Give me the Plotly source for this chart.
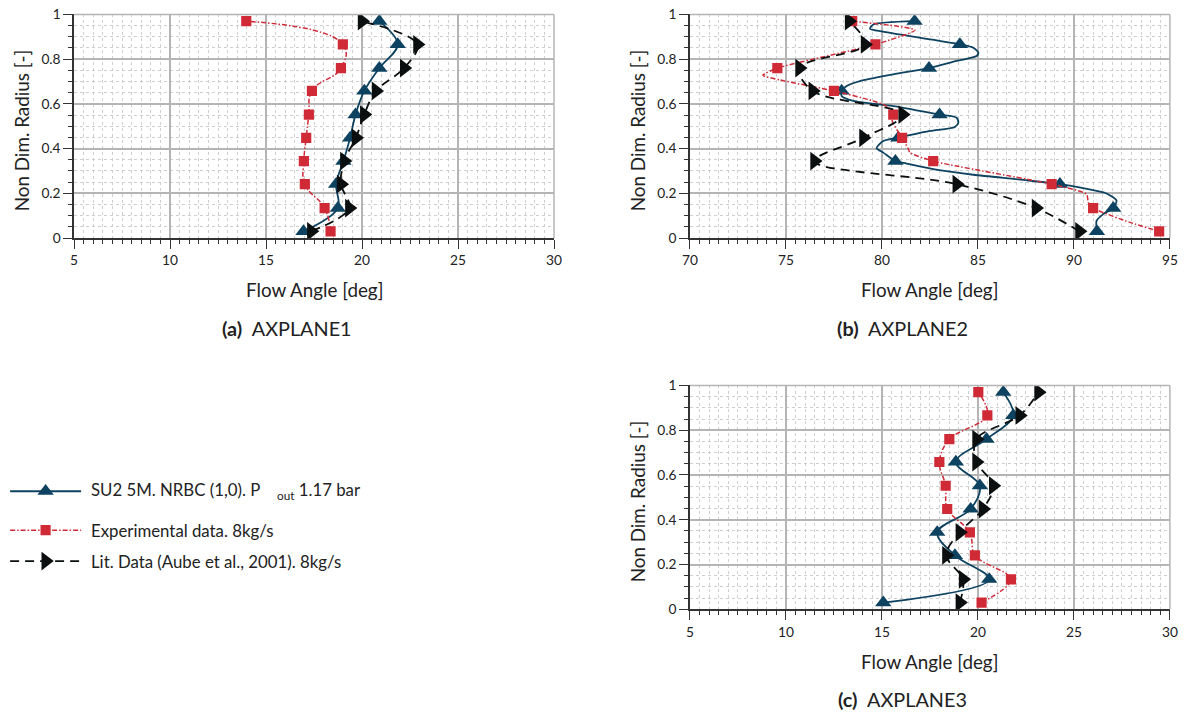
import plotly.graph_objects as go

# Radial stations shared by all three planes (non-dimensional radius)
radius = [0.03, 0.134, 0.241, 0.344, 0.448, 0.552, 0.658, 0.76, 0.866, 0.97]

# AXPLANE1 flow angles [deg]
su2_a = [16.95, 18.74, 18.65, 19.03, 19.38, 19.66, 20.12, 20.9, 21.86, 20.9]
exp_a = [18.36, 18.05, 17.02, 16.97, 17.09, 17.23, 17.39, 18.9, 19.0, 13.97]
lit_a = [17.35, 19.33, 18.9, 19.07, 19.68, 20.11, 20.72, 22.19, 22.88, 19.99]

# AXPLANE2 flow angles [deg]
su2_b = [91.2, 92.05, 89.27, 80.7, 80.85, 83.0, 77.9, 82.45, 84.06, 81.7]
exp_b = [94.44, 91.0, 88.84, 82.67, 81.05, 80.59, 77.5, 74.55, 79.66, 78.45]
lit_b = [90.28, 88.02, 83.89, 76.48, 79.03, 81.07, 76.39, 75.7, 79.11, 78.28]

# AXPLANE2 full SU2 radial profile
su2_b_prof_x = [81.7, 79.55, 79.38, 79.9, 84.06, 84.76, 85.02, 84.93, 83.89, 82.45,
                80.59, 78.85, 78.16, 77.9, 77.9, 78.5, 80.6, 83.0, 83.89, 83.98,
                83.8, 82.5, 81.28, 80.07, 79.72, 80.07, 80.7, 81.28, 82.67, 84.76,
                87.36, 89.27, 91.18, 91.7, 92.22, 92.05, 91.53, 91.18, 91.2]
su2_b_prof_y = [0.97, 0.955, 0.936, 0.925, 0.866, 0.851, 0.829, 0.814, 0.792, 0.76,
                0.732, 0.702, 0.68, 0.658, 0.635, 0.613, 0.59, 0.552, 0.538, 0.516,
                0.497, 0.479, 0.457, 0.434, 0.402, 0.382, 0.344, 0.333, 0.308, 0.283,
                0.26, 0.241, 0.211, 0.199, 0.167, 0.134, 0.107, 0.077, 0.03]

# AXPLANE2 measured profile
exp_b_prof_x = [78.45, 81.72, 79.66, 74.55, 73.8, 74.69, 77.5, 79.55, 80.24, 80.59,
                80.5, 80.6, 81.05, 81.37, 81.46, 82.67, 88.84, 90.66, 90.75, 91.0,
                92.92, 94.44]
exp_b_prof_y = [0.97, 0.93, 0.866, 0.76, 0.728, 0.707, 0.658, 0.613, 0.59, 0.552,
                0.538, 0.51, 0.448, 0.399, 0.382, 0.344, 0.241, 0.196, 0.159, 0.134,
                0.070, 0.03]

# AXPLANE3 flow angles [deg]
su2_c = [15.07, 20.59, 18.8, 17.88, 19.62, 20.10, 18.85, 20.45, 21.84, 21.32]
exp_c = [20.19, 21.72, 19.84, 19.58, 18.40, 18.32, 17.99, 18.51, 20.49, 20.02]
lit_c = [19.05, 19.22, 18.35, 19.05, 20.26, 20.79, 19.92, 19.92, 22.17, 23.15]

series_names = ["SU2 5M. NRBC (1,0). P\u00a0\u00a0\u00a0\u00a0<sub>out</sub> 1.17 bar",
                "Experimental data. 8kg/s",
                "Lit. Data (Aube et al., 2001). 8kg/s"]
captions = ["AXPLANE1", "AXPLANE2", "AXPLANE3"]

# figure size; the html body adds an 8px margin and the page is shown
# fitted back into the 1189x713 window, so layout positions are given in
# window pixels and converted here
W, H = 1189, 713
OFF = 8
KX = W / (W + 2 * OFF)
KY = H / (H + 2 * OFF)
KS = (KX + KY) / 2      # size compensation for fonts / markers

FONT = "Lato"
TXT = "#222222"
NAVY = "#0d4260"
RED = "#d12a37"
BLACK = "#0b0f10"
GRID = "#b5b5b5"


def sz(v):
    return v / KS


su2_style = dict(line=dict(color=NAVY, width=1.8),
                 marker=dict(symbol="triangle-up", size=sz(14), color=NAVY))
exp_style = dict(line=dict(color=RED, width=1.5, dash="5px,2px,1.5px,2px"),
                 marker=dict(symbol="square", size=sz(10), color=RED))
lit_style = dict(line=dict(color=BLACK, width=1.8, dash="9px,6px"),
                 marker=dict(symbol="triangle-right", size=sz(16), color=BLACK))


def fx(px):
    """window pixel column -> paper fraction"""
    return (px / KX - OFF) / W


def fy(py):
    """window pixel row -> paper fraction"""
    return 1 - (py / KY - OFF) / H


# panel boxes in window pixels: (left, right, top, bottom)
panels = {
    "a": (74, 554, 13.3, 237.3),
    "b": (690, 1170, 13.3, 237.3),
    "c": (690, 1170, 385.0, 609.3),
}

fig = go.Figure()


def add_series(xs, ys, style, ax, shape_smooth=1.0, line_only=False, marker_only=False):
    if not marker_only:
        fig.add_trace(go.Scatter(x=xs, y=ys, mode="lines", line=style["line"],
                                 line_shape="spline", line_smoothing=shape_smooth,
                                 xaxis=ax[0], yaxis=ax[1], showlegend=False,
                                 hoverinfo="skip"))
    if not line_only:
        fig.add_trace(go.Scatter(x=xs, y=ys, mode="markers", marker=style["marker"],
                                 xaxis=ax[0], yaxis=ax[1], showlegend=False))


# AXPLANE1
axA = ("x", "y")
add_series(su2_a, radius, su2_style, axA)
add_series(exp_a, radius, exp_style, axA, shape_smooth=1.3)
add_series(lit_a, radius, lit_style, axA)

# AXPLANE2
axB = ("x2", "y2")
add_series(su2_b_prof_x, su2_b_prof_y, su2_style, axB, shape_smooth=0.7, line_only=True)
add_series(su2_b, radius, su2_style, axB, marker_only=True)
add_series(exp_b_prof_x, exp_b_prof_y, exp_style, axB, shape_smooth=0.6, line_only=True)
add_series(exp_b, radius, exp_style, axB, marker_only=True)
add_series(lit_b, radius, lit_style, axB)

# AXPLANE3
axC = ("x3", "y3")
add_series(su2_c, radius, su2_style, axC)
add_series(exp_c, radius, exp_style, axC)
add_series(lit_c, radius, lit_style, axC)


def xaxis_cfg(left, right, rng):
    return dict(domain=[fx(left), fx(right)], range=rng, dtick=5, tick0=rng[0],
                showline=True, linecolor="#333333", linewidth=1.5,
                ticks="outside", ticklen=9, tickwidth=1.2, tickcolor="#333333",
                showgrid=True, gridcolor=GRID, gridwidth=1.5, zeroline=False,
                tickfont=dict(family=FONT, size=sz(13.5), color=TXT),
                minor=dict(dtick=0.5, ticks="outside", ticklen=4, tickwidth=1,
                           tickcolor="#333333", showgrid=True, gridcolor="#cfcfcf",
                           griddash="dot", gridwidth=1))


def yaxis_cfg(top, bottom):
    return dict(domain=[fy(bottom), fy(top)], range=[0, 1], dtick=0.2, tick0=0,
                showline=True, linecolor="#333333", linewidth=1.5,
                ticks="outside", ticklen=9, tickwidth=1.2, tickcolor="#333333",
                showgrid=True, gridcolor=GRID, gridwidth=1.5, zeroline=False,
                tickfont=dict(family=FONT, size=sz(13.5), color=TXT),
                minor=dict(dtick=0.05, ticks="outside", ticklen=4, tickwidth=1,
                           tickcolor="#333333", showgrid=True, gridcolor="#cfcfcf",
                           griddash="dot", gridwidth=1))


la, ra, ta, ba = panels["a"]
lb, rb, tb, bb = panels["b"]
lc, rc, tc, bc = panels["c"]

# legend block area in window pixels (left, right, top, bottom)
LEG = (8, 400, 460, 590)

layout_axes = dict(
    xaxis=dict(xaxis_cfg(la, ra, [5, 30]), anchor="y"),
    yaxis=dict(yaxis_cfg(ta, ba), anchor="x"),
    xaxis2=dict(xaxis_cfg(lb, rb, [70, 95]), anchor="y2"),
    yaxis2=dict(yaxis_cfg(tb, bb), anchor="x2"),
    xaxis3=dict(xaxis_cfg(lc, rc, [5, 30]), anchor="y3"),
    yaxis3=dict(yaxis_cfg(tc, bc), anchor="x3"),
    # small hidden axes hosting the hand-built legend block
    xaxis4=dict(domain=[fx(LEG[0]), fx(LEG[1])], range=[LEG[0], LEG[1]],
                visible=False, fixedrange=True, anchor="y4"),
    yaxis4=dict(domain=[fy(LEG[3]), fy(LEG[2])], range=[LEG[3], LEG[2]],
                visible=False, fixedrange=True, anchor="x4"),
)

# grey frame on the top and right edges of each panel
shapes = []
for ax in ["", "2", "3"]:
    shapes.append(dict(type="line", xref=f"x{ax} domain", yref=f"y{ax} domain",
                       x0=0, x1=1, y0=1, y1=1, layer="above",
                       line=dict(color=GRID, width=1.5)))
    shapes.append(dict(type="line", xref=f"x{ax} domain", yref=f"y{ax} domain",
                       x0=1, x1=1, y0=0, y1=1, layer="above",
                       line=dict(color=GRID, width=1.5)))

annotations = []


def ann(text, px, py, size, angle=0, xanchor="center", yanchor="middle"):
    annotations.append(dict(text=text, x=fx(px), y=fy(py), xref="paper", yref="paper",
                            showarrow=False, textangle=angle, xanchor=xanchor,
                            yanchor=yanchor,
                            font=dict(family=FONT, size=sz(size), color=TXT)))


for key, cap in zip(["a", "b", "c"], captions):
    l, r, t, b = panels[key]
    ann("Flow Angle [deg]", (l + r) / 2, b + 52, 18.5)
    ann("Non Dim. Radius [-]", l - 53, (t + b) / 2 + 4, 18.5, angle=-90)
    ann(f"<b>({key})</b>\u00a0\u00a0{cap}", (l + r) / 2 - 27, b + 90, 19.5)

# legend block
legend_rows = [491, 530, 561]
legend_styles = [su2_style, exp_style, lit_style]
leg_x0, leg_x1, leg_text_x = 10, 81, 89
for row_y, style, name in zip(legend_rows, legend_styles, series_names):
    fig.add_trace(go.Scatter(x=[leg_x0, leg_x1], y=[row_y, row_y], mode="lines",
                             line=style["line"], xaxis="x4", yaxis="y4",
                             showlegend=False, hoverinfo="skip", cliponaxis=False))
    fig.add_trace(go.Scatter(x=[(leg_x0 + leg_x1) / 2], y=[row_y], mode="markers",
                             marker=style["marker"], xaxis="x4", yaxis="y4",
                             showlegend=False, hoverinfo="skip"))
    ann(name, leg_text_x, row_y, 16.5, xanchor="left")

fig.update_layout(
    width=W, height=H,
    margin=dict(l=0, r=0, t=0, b=0),
    paper_bgcolor="white", plot_bgcolor="white",
    showlegend=False,
    shapes=shapes,
    annotations=annotations,
    font=dict(family=FONT, color=TXT),
    **layout_axes,
)

fig.write_html("out.html")
